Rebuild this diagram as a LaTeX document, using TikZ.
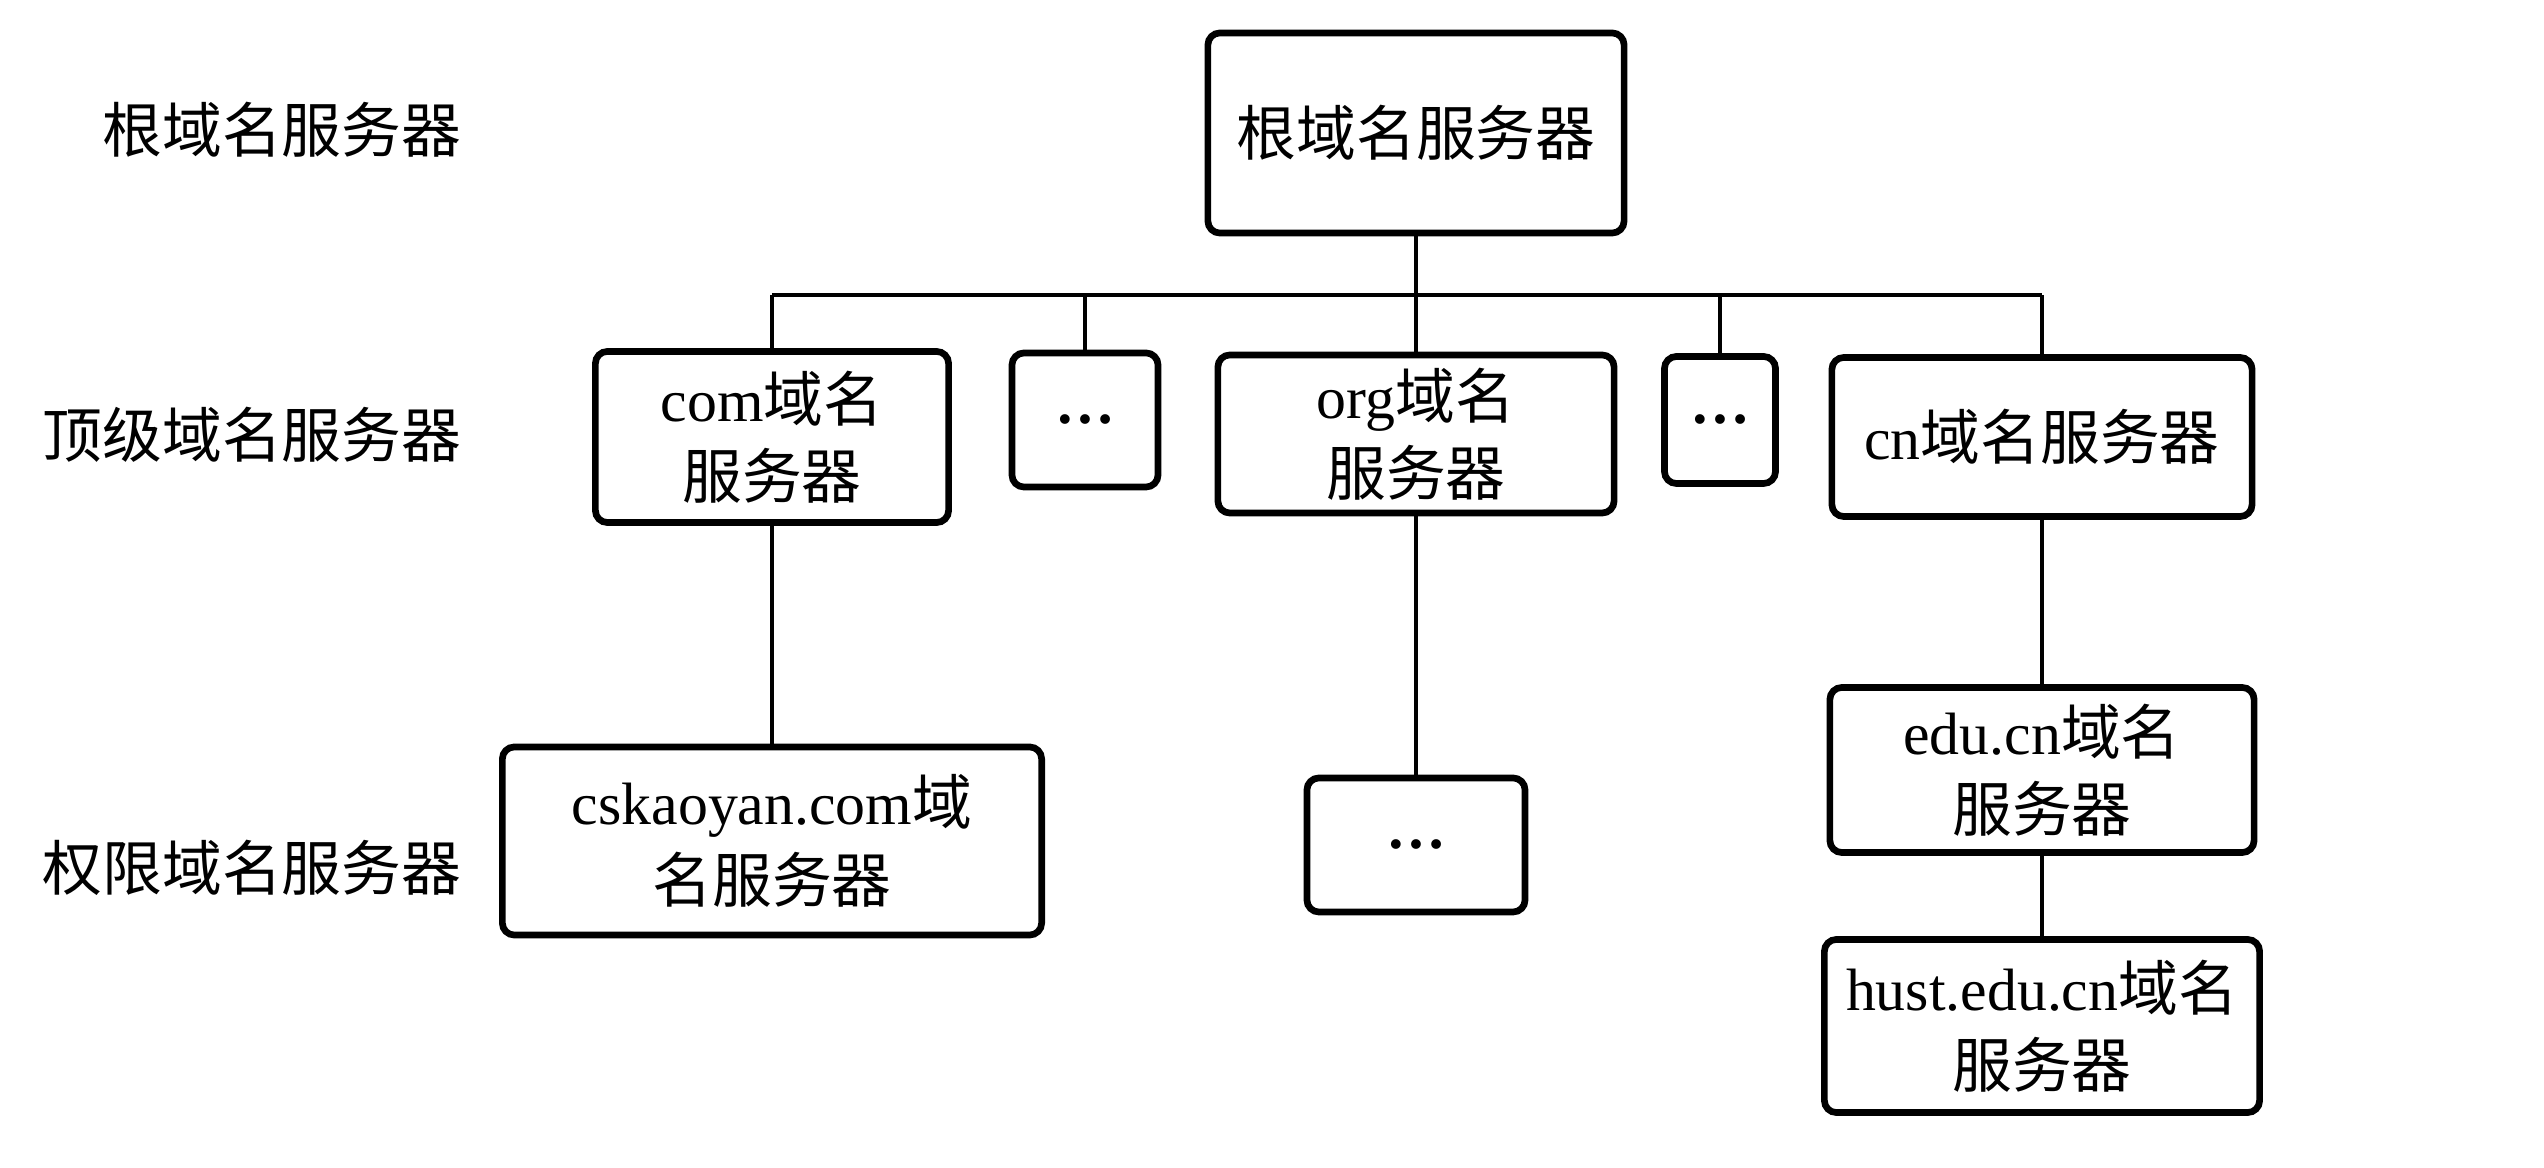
\documentclass[tikz,border=0pt]{standalone}
\usepackage{fontspec}
\setmainfont{Liberation Serif}
\newfontfamily\cjk{Noto Sans CJK SC}
\newcommand{\zh}[1]{{\cjk #1}}

\begin{document}
\begin{tikzpicture}[x=0.01cm, y=-0.01cm,
  server/.style={draw, line width=1.9pt, rounded corners=0.12cm, align=center, inner sep=0pt,
    font=\fontsize{17pt}{22pt}\selectfont},
  level/.style={anchor=east, inner sep=0pt, font=\fontsize{17pt}{21pt}\selectfont\cjk},
  link/.style={line width=0.9pt}]
\useasboundingbox (0,0) rectangle (2544,1168);
% Level labels
\node[level] (lroot) at (462,130) {根域名服务器};
\node[level] (ltop) at (462,435) {顶级域名服务器};
\node[level] (lauth) at (462,868) {权限域名服务器};
% Root
\node[server, minimum width=4.16cm, minimum height=2cm] (root) at (1416,133) {\zh{根域名服务器}};
% Top level
\node[server, minimum width=3.53cm, minimum height=1.71cm] (com) at (772,437) {com\zh{域名}\\\zh{服务器}};
\node[server, minimum width=1.46cm, minimum height=1.34cm] (dotsa) at (1085,420) {\textbf{\ldots}};
\node[server, minimum width=3.96cm, minimum height=1.58cm] (org) at (1416,434) {org\zh{域名}\\\zh{服务器}};
\node[server, minimum width=1.11cm, minimum height=1.27cm] (dotsb) at (1720,420) {\textbf{\ldots}};
\node[server, minimum width=4.2cm, minimum height=1.59cm] (cn) at (2042,437) {cn\zh{域名服务器}};
% Authoritative
\node[server, minimum width=5.39cm, minimum height=1.88cm] (cskaoyan) at (772,841) {cskaoyan.com\zh{域}\\\zh{名服务器}};
\node[server, minimum width=2.18cm, minimum height=1.34cm] (dotsc) at (1416,845) {\textbf{\ldots}};
\node[server, minimum width=4.24cm, minimum height=1.65cm] (edu) at (2042,770) {edu.cn\zh{域名}\\\zh{服务器}};
\node[server, minimum width=4.35cm, minimum height=1.73cm] (hust) at (2042,1026) {hust.edu.cn\zh{域名}\\\zh{服务器}};
% Links
\coordinate (bus) at (0,295);
\draw[link] (root.south) -- (root.south |- bus);
\draw[link] (com.north |- bus) -- (cn.north |- bus);
\foreach \n in {com,dotsa,org,dotsb,cn}
  \draw[link] (\n.north) -- (\n.north |- bus);
\draw[link] (com) -- (cskaoyan);
\draw[link] (org) -- (dotsc);
\draw[link] (cn) -- (edu);
\draw[link] (edu) -- (hust);
\end{tikzpicture}
\end{document}
